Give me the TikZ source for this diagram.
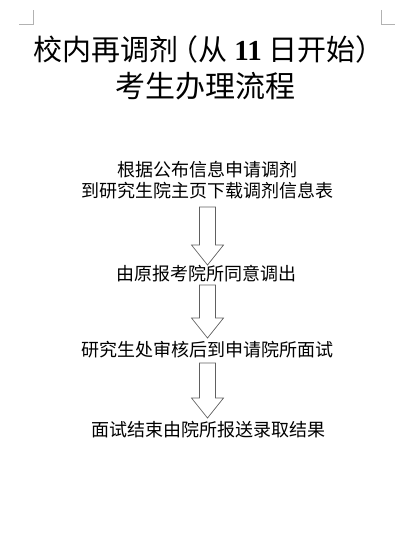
\documentclass[tikz,border=0pt]{standalone}
\usepackage{fontspec}
\setmainfont{Noto Sans CJK SC}
\newfontfamily\numfont{Liberation Serif}
\usetikzlibrary{calc}

\tikzset{
 titletext/.style={font=\fontsize{30}{30}\selectfont, inner sep=0pt},
 steptext/.style={font=\fontsize{18}{18}\selectfont, inner sep=0pt},
 cropmark/.style={gray!60, line width=0.9pt},
 fatarrow/.style={draw=gray!75!black, line width=0.7pt, line join=miter,
  to path={($(\tikztostart)+(-8,0)$) -- ($(\tikztotarget)+(-8,-20)$)
   -- ($(\tikztotarget)+(-16,-20)$) -- (\tikztotarget)
   -- ($(\tikztotarget)+(16,-20)$) -- ($(\tikztotarget)+(8,-20)$)
   -- ($(\tikztostart)+(8,0)$) -- cycle}}
}

\begin{document}
\begin{tikzpicture}[x=1pt,y=-1pt]
 \useasboundingbox (0,0) rectangle (406,535);
 % page corner marks
 \draw[cropmark] (19,24) -- (33,24) -- (33,10);
 \draw[cropmark] (381,10) -- (381,24) -- (395,24);
 % title
 \node[titletext, font=\fontsize{29}{29}\selectfont] (title1) at (209,49)
  {校内再调剂\kern-0.3em（从 {\numfont\bfseries 11} 日开始）};
 \node[titletext] (title2) at (205,86) {考生办理流程};
 % steps
 \node[steptext] (s1a) at (207,169.5) {根据公布信息申请调剂};
 \node[steptext] (s1b) at (207,190.5) {到研究生院主页下载调剂信息表};
 \node[steptext] (s2) at (206,274) {由原报考院所同意调出};
 \node[steptext] (s3) at (207.5,350) {研究生处审核后到申请院所面试};
 \node[steptext] (s4) at (208,430) {面试结束由院所报送录取结果};
 % arrows
 \coordinate (a1top) at (207.5,207);
 \coordinate (a1tip) at (207.5,265);
 \coordinate (a2top) at (207.5,285);
 \coordinate (a2tip) at (207.5,338);
 \coordinate (a3top) at (207.5,363);
 \coordinate (a3tip) at (207.5,418);
 \draw[fatarrow] (a1top) to (a1tip);
 \draw[fatarrow] (a2top) to (a2tip);
 \draw[fatarrow] (a3top) to (a3tip);
\end{tikzpicture}
\end{document}
